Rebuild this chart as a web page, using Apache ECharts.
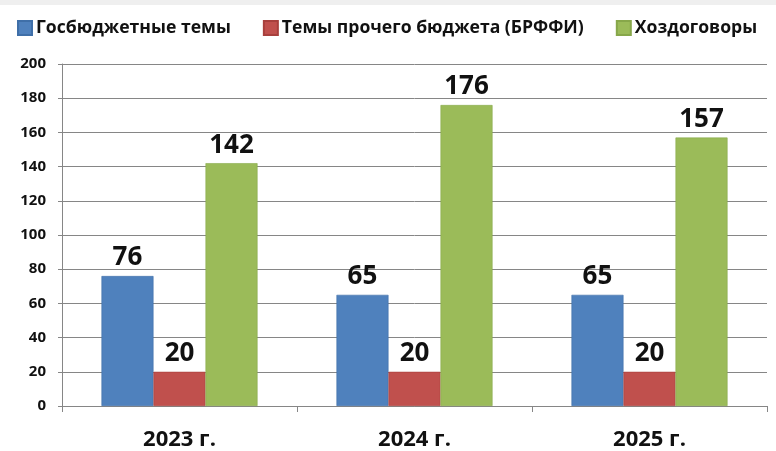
<!DOCTYPE html>
<html lang="ru">
<head>
    <meta charset="UTF-8">
    <title>Темы</title>
    <script src="https://cdn.jsdelivr.net/npm/echarts@6/dist/echarts.min.js"></script>
    <style>
        body { margin: 0; background: #fff; }
        #main { width: 776px; height: 451px; }
    </style>
</head>
<body>
    <div id="main"></div>
    <script type="text/javascript">
        // данные диаграммы
        var years = ['2023 г.', '2024 г.', '2025 г.'];
        var seriesNames = ['Госбюджетные темы', 'Темы прочего бюджета (БРФФИ)', 'Хоздоговоры'];
        var gosbudget = [76, 65, 65];
        var brffi = [20, 20, 20];
        var hozdog = [142, 176, 157];

        var colors = ['#4F81BD', '#C0504D', '#9BBB59'];
        var borders = ['#3f6fa8', '#a8403d', '#87a74a'];
        var fontName = '"Open Sans", "Noto Sans", sans-serif';

        function makeSeries(name, data, i) {
            return {
                name: name,
                type: 'bar',
                data: data,
                barGap: '0%',
                barCategoryGap: '33.6%',
                animation: false,
                itemStyle: { color: colors[i], borderColor: borders[i], borderWidth: 0.6 },
                label: {
                    show: true,
                    position: 'top',
                    distance: 5,
                    color: '#111',
                    fontFamily: fontName,
                    fontWeight: 'bold',
                    fontSize: 26
                }
            };
        }

        var option = {
            color: colors,
            graphic: [{
                type: 'rect',
                shape: { x: 0, y: 0, width: 776, height: 5 },
                style: { fill: '#efefef' }
            }],
            legend: {
                left: 17,
                top: 19,
                padding: 0,
                icon: 'rect',
                itemWidth: 14,
                itemHeight: 14,
                itemGap: 32,
                textStyle: { fontFamily: fontName, fontWeight: 'bold', fontSize: 17.6, color: '#111', padding: [0, 0, 0, -1] },
                data: seriesNames
            },
            grid: { left: 62, right: 9, top: 64, bottom: 45, containLabel: false },
            xAxis: {
                type: 'category',
                data: years,
                axisLine: { lineStyle: { color: '#868686', width: 1 } },
                axisTick: { show: true, length: 6, lineStyle: { color: '#868686' } },
                axisLabel: { color: '#111', fontFamily: fontName, fontWeight: 'bold', fontSize: 22, margin: 23 }
            },
            yAxis: {
                type: 'value',
                min: 0,
                max: 200,
                interval: 20,
                axisLine: { show: true, lineStyle: { color: '#868686' } },
                axisTick: { show: true, length: 4, lineStyle: { color: '#868686' } },
                splitLine: { lineStyle: { color: '#868686', width: 1 } },
                axisLabel: { color: '#111', fontFamily: fontName, fontWeight: 'bold', fontSize: 15, margin: 16 }
            },
            series: [
                makeSeries(seriesNames[0], gosbudget, 0),
                makeSeries(seriesNames[1], brffi, 1),
                makeSeries(seriesNames[2], hozdog, 2)
            ]
        };

        var myChart = echarts.init(document.getElementById('main'));
        myChart.setOption(option);
    </script>
</body>
</html>
